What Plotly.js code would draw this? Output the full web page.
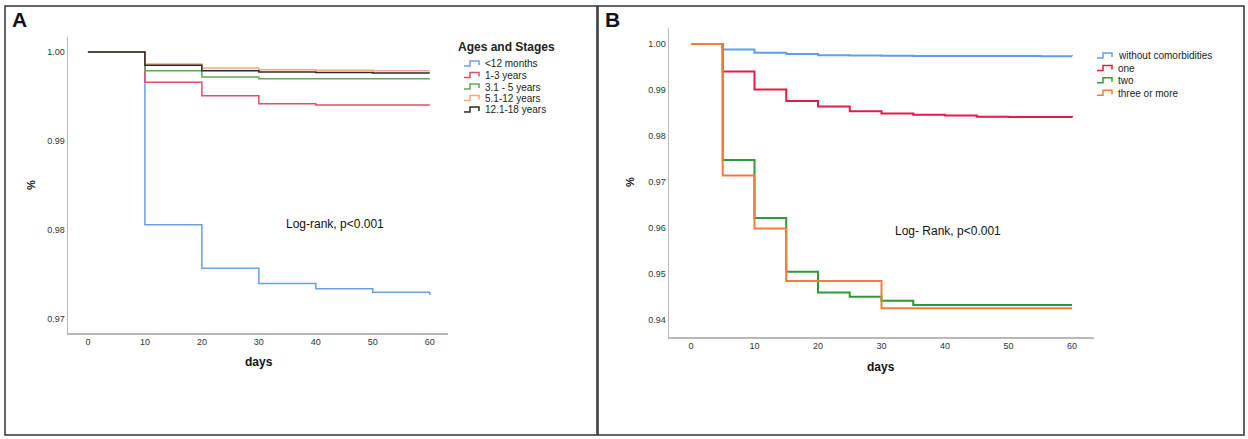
<!DOCTYPE html>
<html>
<head>
<meta charset="utf-8">
<script src="https://cdn.plot.ly/plotly-3.0.1.min.js"></script>
<style>
  html, body { margin: 0; padding: 0; background: #fff; }
  #chart { width: 1248px; height: 439px; }
</style>
</head>
<body>
<div id="chart"></div>
<script>
/* ── Data: panel A (ages and stages) ─────────────────────── */
const daysA = [0, 10, 20, 30, 40, 50, 60];
const namesA = ['<12 months', '1-3 years', '3.1 - 5 years', '5.1-12 years', '12.1-18 years'];
const infants  = [1, 0.9806, 0.9757, 0.9740, 0.9734, 0.9730, 0.9727];
const toddlers = [1, 0.9966, 0.9951, 0.9942, 0.99405, 0.99405, 0.99405];
const preschool = [1, 0.9979, 0.9972, 0.9970, 0.9970, 0.9970, 0.9970];
const school   = [1, 0.99865, 0.9982, 0.9980, 0.99795, 0.9979, 0.9979];
const teens    = [1, 0.99852, 0.9979, 0.99775, 0.9977, 0.99765, 0.99765];
const colorsA = ['#6c9ee8', '#d9506a', '#62a65a', '#f5a77f', '#2b2b2b'];

/* ── Data: panel B (comorbidities) ───────────────────────── */
const daysB = [0, 5, 10, 15, 20, 25, 30, 35, 40, 45, 50, 55, 60];
const namesB = ['without comorbidities', 'one', 'two', 'three or more'];
const noComorb = [1, 0.9988, 0.9981, 0.9978, 0.99756, 0.99748, 0.99742, 0.9974, 0.99738, 0.99736, 0.99735, 0.99734, 0.99733];
const oneComorb = [1, 0.9940, 0.9901, 0.9876, 0.9864, 0.9854, 0.9849, 0.9846, 0.98445, 0.9842, 0.98415, 0.9841, 0.9840];
const twoComorb = [1, 0.9748, 0.9622, 0.9505, 0.9460, 0.9451, 0.9442, 0.9433, 0.9433, 0.9433, 0.9433, 0.9433, 0.9433];
const threeComorb = [1, 0.9714, 0.9599, 0.9485, 0.9485, 0.9485, 0.9426, 0.9426, 0.9426, 0.9426, 0.9426, 0.9426, 0.9426];
const colorsB = ['#5b9ff0', '#e5194a', '#2e9a36', '#f47b3c'];

/* ── Pixel helpers (figure is 1248 x 439) ────────────────── */
const W = 1248, H = 439;
const px = x => x / W;
const py = y => 1 - y / H;
const FONT = 'Liberation Sans, Arial, sans-serif';

/* ── Traces ─────────────────────────────────────────────── */
function stepTrace(x, y, name, color, width, xa, ya) {
  return {
    x, y, name, type: 'scatter', mode: 'lines',
    line: { shape: 'hv', color, width },
    xaxis: xa, yaxis: ya, showlegend: false,
    hovertemplate: `${name}<br>day %{x}: %{y:.4f}<extra></extra>`
  };
}

const seriesA = [infants, toddlers, preschool, school, teens];
const seriesB = [noComorb, oneComorb, twoComorb, threeComorb];

const traces = [
  ...seriesA.map((s, i) => stepTrace(daysA, s, namesA[i], colorsA[i], 1.5, 'x', 'y')),
  ...seriesB.map((s, i) => stepTrace(daysB, s, namesB[i], colorsB[i], 2, 'x2', 'y2'))
];

/* ── Axis styling ───────────────────────────────────────── */
const axisBase = {
  showgrid: false, zeroline: false,
  showline: true, linecolor: '#b8b8b8', linewidth: 1.5,
  ticks: '', tickfont: { size: 9, color: '#333', family: FONT },
  fixedrange: true
};

/* ── Manual legends (step icons + labels) ──────────────── */
const shapes = [];
const annotations = [];

function legendItem(x0, y, label, color) {
  const d = `M ${px(x0)} ${py(y + 2)} L ${px(x0 + 6)} ${py(y + 2)} L ${px(x0 + 6)} ${py(y - 3)} ` +
            `L ${px(x0 + 15)} ${py(y - 3)} L ${px(x0 + 15)} ${py(y + 1)}`;
  shapes.push({ type: 'path', xref: 'paper', yref: 'paper', path: d,
                line: { color, width: 1.5 } });
  annotations.push({ xref: 'paper', yref: 'paper', x: px(x0 + 19), y: py(y),
                     xanchor: 'left', yanchor: 'middle', showarrow: false,
                     text: label, font: { size: 10, color: '#222', family: FONT } });
}

annotations.push({ xref: 'paper', yref: 'paper', x: px(456), y: py(47),
                   xanchor: 'left', yanchor: 'middle', showarrow: false,
                   text: '<b>Ages and Stages</b>', font: { size: 12, color: '#222', family: FONT } });
namesA.forEach((n, i) => legendItem(464, 64 + i * 11.5, n, colorsA[i]));
namesB.forEach((n, i) => legendItem(1097, 56 + i * 12.4, n, colorsB[i]));

/* ── Panel borders ──────────────────────────────────────── */
[[5, 6, 597, 435], [598, 6, 1244, 435]].forEach(([x0, y0, x1, y1]) => {
  shapes.push({ type: 'rect', xref: 'paper', yref: 'paper',
                x0: px(x0), x1: px(x1), y0: py(y1), y1: py(y0),
                line: { color: '#333', width: 1.5 } });
});

/* ── Texts: panel letters, axis titles, test results ───── */
function label(x, y, text, size, extra) {
  annotations.push(Object.assign({ xref: 'paper', yref: 'paper', x: px(x), y: py(y),
    xanchor: 'center', yanchor: 'middle', showarrow: false, text,
    font: { size, color: '#111', family: FONT } }, extra || {}));
}
label(19, 20, '<b>A</b>', 21);
label(612, 20, '<b>B</b>', 21);
label(31, 185, '<b>%</b>', 11, { textangle: -90 });
label(630, 182, '<b>%</b>', 11, { textangle: -90 });
label(259, 362, '<b>days</b>', 12);
label(881, 367, '<b>days</b>', 12);
label(335, 224, 'Log-rank, p<0.001', 12);
label(948, 231, 'Log- Rank, p<0.001', 12);

const layout = {
  width: W, height: H,
  margin: { l: 0, r: 0, t: 0, b: 0 },
  paper_bgcolor: '#fff', plot_bgcolor: '#fff',
  showlegend: false,
  font: { family: FONT },
  xaxis: Object.assign({}, axisBase, {
    domain: [px(68), px(448)], range: [-3.5, 63.2],
    tickvals: [0, 10, 20, 30, 40, 50, 60], anchor: 'y'
  }),
  yaxis: Object.assign({}, axisBase, {
    domain: [py(333), py(37)], range: [0.96843, 1.00169],
    tickvals: [0.97, 0.98, 0.99, 1.0], tickformat: '.2f', anchor: 'x'
  }),
  xaxis2: Object.assign({}, axisBase, {
    domain: [px(669), px(1094)], range: [-3.46, 63.46],
    tickvals: [0, 10, 20, 30, 40, 50, 60], anchor: 'y2'
  }),
  yaxis2: Object.assign({}, axisBase, {
    domain: [py(337), py(28)], range: [0.93633, 1.00346],
    tickvals: [0.94, 0.95, 0.96, 0.97, 0.98, 0.99, 1.0], tickformat: '.2f', anchor: 'x2'
  }),
  shapes, annotations
};

Plotly.newPlot('chart', traces, layout, { staticPlot: true, displayModeBar: false });
</script>
</body>
</html>
